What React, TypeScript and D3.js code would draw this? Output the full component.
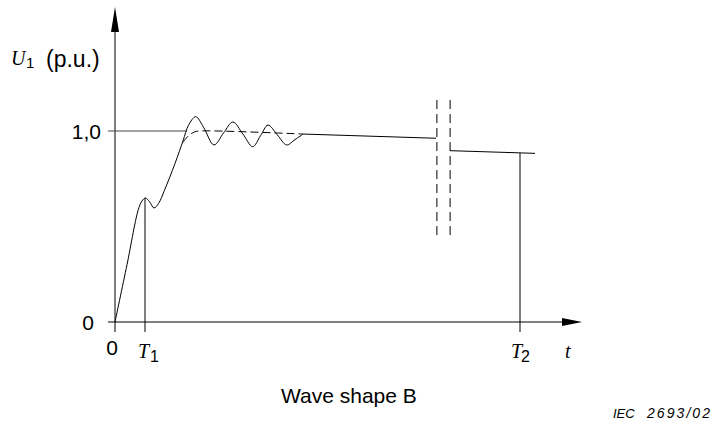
import React from "react";
import * as d3 from "d3";

const W = 713;
const H = 428;

// time in units of T1 (T1 = 1), voltage in p.u.
const waveT = [0, 0.4, 0.8, 0.93, 1.02, 1.15, 1.3, 1.45, 1.65, 2.0, 2.27, 2.45, 2.69, 2.95, 3.3, 3.62, 3.93, 4.26, 4.59, 4.85, 5.1, 5.41, 5.72, 6.0, 6.27];
const waveU = [0, 0.3, 0.6, 0.64, 0.649, 0.63, 0.597, 0.62, 0.69, 0.83, 0.95, 1.03, 1.075, 1.02, 0.927, 0.99, 1.047, 0.985, 0.918, 0.975, 1.031, 0.98, 0.927, 0.955, 0.984];

const meanT = [2.26, 2.45, 2.65, 2.83, 6.27];
const meanU = [0.94, 0.975, 0.995, 1.0, 0.984];

const trendT = [6.27, 10.7];
const trendU = [0.984, 0.962];

const afterT = [11.17, 14.0];
const afterU = [0.897, 0.883];

const breakT = [10.73, 11.17];
const breakU = [1.162, 0.445];

const refT = [-0.23, 2.4];
const refU = [1.0, 1.0];

const T1 = 1;
const T2 = 13.5;
const T1U = 0.649;
const T2U = 0.885;

const yTickValues = [0, 1];
const yTickLabels = ["0", "1,0"];
const yTickOffsets = [21, 14];

const xAxisRange = [-0.23, 14.9, 15.57];
const yAxisRange = [0, 1.518, 1.649];

const zip = (a: number[], b: number[]) => a.map((v, i) => [v, b[i]] as [number, number]);

export default function App() {
  const x = d3.scaleLinear().domain([0, 1]).range([115, 145]);
  const y = d3.scaleLinear().domain([0, 1]).range([322, 131]);

  const smooth = d3
    .line<[number, number]>()
    .x((d) => x(d[0]))
    .y((d) => y(d[1]))
    .curve(d3.curveCatmullRom.alpha(0.5));
  const straight = d3
    .line<[number, number]>()
    .x((d) => x(d[0]))
    .y((d) => y(d[1]));

  const x0 = x(0);
  const y0 = y(0);
  const tickLen = 10;

  const sans = "'Liberation Sans', Arial, sans-serif";
  const serif = "'Liberation Serif', 'Times New Roman', serif";
  const fs = 21;

  return (
    <svg
      width={W}
      height={H}
      style={{ position: "absolute", left: 0, top: 0, background: "#fff" }}
    >
      <rect width={W} height={H} fill="#fff" />
      <g fill="none" stroke="#000" strokeWidth={1}>
        {/* axes */}
        <line x1={x(xAxisRange[0])} y1={y0} x2={x(xAxisRange[1])} y2={y0} />
        <line x1={x0} y1={y0 + tickLen} x2={x0} y2={y(yAxisRange[1])} />
        {/* reference level 1,0 */}
        <path d={straight(zip(refT, refU)) || ""} stroke="#444" />
        {/* wave */}
        <path d={smooth(zip(waveT, waveU)) || ""} />
        {/* mean dashed */}
        <path d={smooth(zip(meanT, meanU)) || ""} strokeDasharray="8,4" />
        <path d={straight(zip(trendT, trendU)) || ""} />
        <path d={straight(zip(afterT, afterU)) || ""} />
        {/* break */}
        {breakT.map((t, i) => (
          <line
            key={i}
            x1={x(t)}
            x2={x(t)}
            y1={y(breakU[0])}
            y2={y(breakU[1])}
            strokeDasharray="9,5"
          />
        ))}
        {/* T1 and T2 verticals */}
        <line x1={x(T1)} x2={x(T1)} y1={y(T1U)} y2={y0 + tickLen} />
        <line x1={x(T2)} x2={x(T2)} y1={y(T2U)} y2={y0 + tickLen} />
      </g>
      {/* arrows */}
      <path
        d={`M${x(xAxisRange[2])},${y0} L${x(xAxisRange[1])},${y0 - 4} L${x(xAxisRange[1])},${y0 + 4} Z`}
        fill="#000"
      />
      <path
        d={`M${x0},${y(yAxisRange[2])} L${x0 - 4},${y(yAxisRange[1])} L${x0 + 4},${y(yAxisRange[1])} Z`}
        fill="#000"
      />
      {/* y tick labels */}
      {yTickValues.map((v, i) => (
        <text
          key={i}
          x={x0 - yTickOffsets[i]}
          y={y(v)}
          dy="0.36em"
          textAnchor="end"
          fontFamily={sans}
          fontSize={fs}
        >
          {yTickLabels[i]}
        </text>
      ))}
      {/* x labels */}
      <text x={x0 - 3} y={355} textAnchor="middle" fontFamily={sans} fontSize={fs}>
        0
      </text>
      <text x={x(T1) - 7} y={358} fontFamily={serif} fontStyle="italic" fontSize={20}>
        T
      </text>
      <text x={x(T1) + 5} y={362} fontFamily={sans} fontSize={16}>
        1
      </text>
      <text x={x(T2) - 9} y={358} fontFamily={serif} fontStyle="italic" fontSize={20}>
        T
      </text>
      <text x={x(T2) + 1} y={362} fontFamily={sans} fontSize={16}>
        2
      </text>
      <text x={565} y={358} fontFamily={serif} fontStyle="italic" fontSize={20}>
        t
      </text>
      {/* y axis title */}
      <text x={11} y={65} fontFamily={serif} fontStyle="italic" fontSize={20}>
        U
      </text>
      <text x={26} y={68} fontFamily={sans} fontSize={15}>
        1
      </text>
      <text x={46} y={67} fontFamily={sans} fontSize={23}>
        (p.u.)
      </text>
      {/* caption */}
      <text x={281} y={403} fontFamily={sans} fontSize={fs}>
        Wave shape B
      </text>
      <text x={613} y={418} fontFamily={sans} fontStyle="italic" fontSize={13}>
        IEC
      </text>
      <text
        x={647}
        y={418}
        fontFamily={sans}
        fontStyle="italic"
        fontSize={14}
        textLength={63}
        lengthAdjust="spacing"
      >
        2693/02
      </text>
    </svg>
  );
}
